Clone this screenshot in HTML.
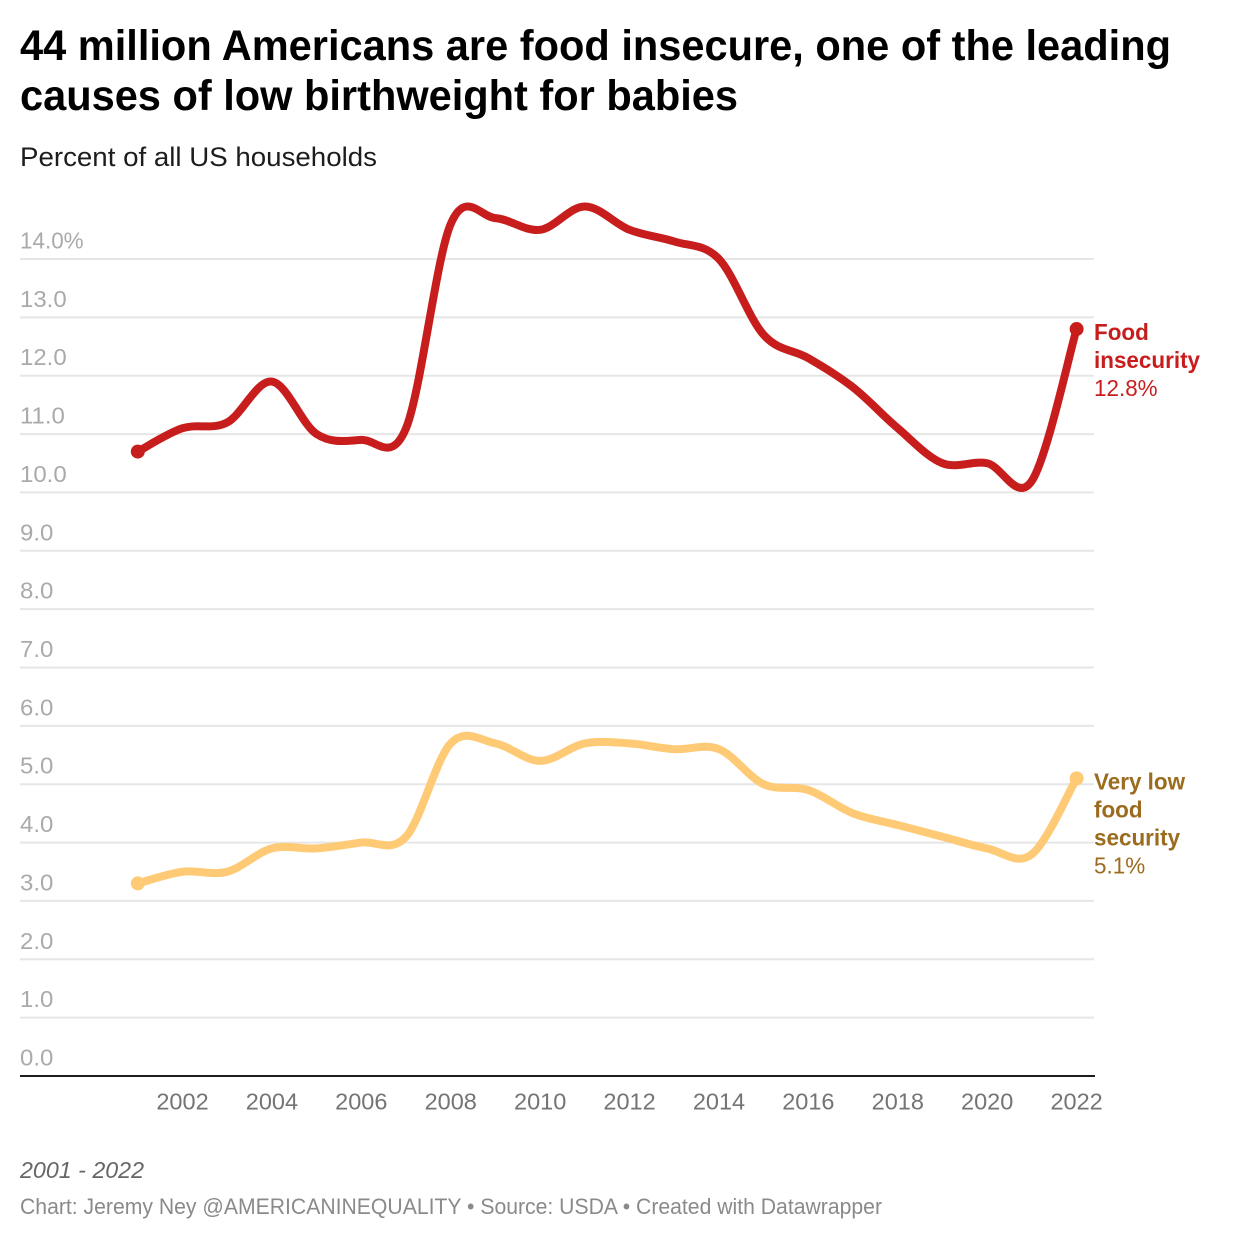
<!DOCTYPE html>
<html lang="en">
<head>
<meta charset="utf-8">
<title>Food insecurity chart</title>
<style>
html,body{margin:0;padding:0;background:#fff;width:1240px;height:1240px;overflow:hidden}
svg{display:block}
text{font-family:"Liberation Sans",Arial,sans-serif}
</style>
</head>
<body>
<svg id="chart" xmlns="http://www.w3.org/2000/svg" width="1240" height="1240" viewBox="0 0 1240 1240">
<rect width="1240" height="1240" fill="#fff"/>
<text x="20" y="60" font-size="43" font-weight="700" fill="#000" textLength="1151" lengthAdjust="spacingAndGlyphs">44 million Americans are food insecure, one of the leading</text>
<text x="20" y="110" font-size="43" font-weight="700" fill="#000" textLength="718" lengthAdjust="spacingAndGlyphs">causes of low birthweight for babies</text>
<text x="20" y="166" font-size="27" fill="#1d1d1d" textLength="357" lengthAdjust="spacingAndGlyphs">Percent of all US households</text>
<g id="grid"></g>
<g id="xaxis"></g>
<g id="series"></g>
<g id="labels"></g>
<text x="20" y="1178" font-size="23" font-style="italic" fill="#666" textLength="124" lengthAdjust="spacingAndGlyphs">2001 - 2022</text>
<text x="20" y="1214" font-size="22" fill="#8a8a8a" textLength="862" lengthAdjust="spacingAndGlyphs">Chart: Jeremy Ney @AMERICANINEQUALITY • Source: USDA • Created with Datawrapper</text>
</svg>
<script>
const years = [2001,2002,2003,2004,2005,2006,2007,2008,2009,2010,2011,2012,2013,2014,2015,2016,2017,2018,2019,2020,2021,2022];
const foodInsecurity = [10.7,11.1,11.2,11.9,11.0,10.9,11.1,14.6,14.7,14.5,14.9,14.5,14.3,14.0,12.7,12.3,11.8,11.1,10.5,10.5,10.2,12.8];
const veryLowFoodSecurity = [3.3,3.5,3.5,3.9,3.9,4.0,4.1,5.7,5.7,5.4,5.7,5.7,5.6,5.6,5.0,4.9,4.5,4.3,4.1,3.9,3.8,5.1];
const yTicks = [0,1,2,3,4,5,6,7,8,9,10,11,12,13,14];
const xTicks = [2002,2004,2006,2008,2010,2012,2014,2016,2018,2020,2022];
const foodLabelLines = ['Food','insecurity'];
const veryLowLabelLines = ['Very low','food','security'];

const NS = 'http://www.w3.org/2000/svg';
const xScale = v => 137.8 + (v - 2001) * (1076.6 - 137.8) / 21;
const yScale = v => 1076 - v * (1076 - 259) / 14;

function make(tag, parent, attrs, txt) {
  const el = document.createElementNS(NS, tag);
  for (const k in attrs) el.setAttribute(k, attrs[k]);
  if (txt !== undefined) el.textContent = txt;
  parent.appendChild(el);
  return el;
}

function fitWidth(el, factor) {
  el.setAttribute('textLength', el.getComputedTextLength() * factor);
  el.setAttribute('lengthAdjust', 'spacingAndGlyphs');
}

const grid = document.getElementById('grid');
yTicks.forEach(t => {
  if (t > 0) {
    const ln = make('line', grid, {x1:20, x2:1094, y1:yScale(t), y2:yScale(t), stroke:'#e6e6e6', 'stroke-width':2});
    
    
  }
  const lab = make('text', grid, {x:20, y:yScale(t)-10.5, 'font-size':23.5, fill:'#aaaaaa'}, t.toFixed(1) + (t === 14 ? '%' : ''));
  
  
  fitWidth(lab, t === 14 ? 0.955 : 1.02);
});

const xaxis = document.getElementById('xaxis');
const axisLine = make('line', xaxis, {x1:20, x2:1095, y1:1076, y2:1076, stroke:'#1d1d1d', 'stroke-width':2});


xTicks.forEach(t => {
  const lab = make('text', xaxis, {x:xScale(t), y:1109.5, 'font-size':23.5, fill:'#747474', 'text-anchor':'middle'}, String(t));
  
  
});

function curvePath(values) {
  const pts = values.map((v, i) => [xScale(years[i]), yScale(v)]);
  let d = 'M' + pts[0][0] + ',' + pts[0][1];
  for (let i = 0; i < pts.length - 1; i++) {
    const p0 = pts[Math.max(i - 1, 0)], p1 = pts[i], p2 = pts[i + 1], p3 = pts[Math.min(i + 2, pts.length - 1)];
    const c1x = p1[0] + (p2[0] - p0[0]) / 6, c1y = p1[1] + (p2[1] - p0[1]) / 6;
    const c2x = p2[0] - (p3[0] - p1[0]) / 6, c2y = p2[1] - (p3[1] - p1[1]) / 6;
    d += 'C' + c1x + ',' + c1y + ' ' + c2x + ',' + c2y + ' ' + p2[0] + ',' + p2[1];
  }
  return d;
}

const series = document.getElementById('series');
const labels = document.getElementById('labels');

function drawSeries(values, color, textColor, lines, key) {
  const path = make('path', series, {d:curvePath(values), fill:'none', stroke:color, 'stroke-width':8, 'stroke-linecap':'round', 'stroke-linejoin':'round'});
  
  
  const last = values.length - 1;
  [0, last].forEach(i => {
    const dot = make('circle', series, {cx:xScale(years[i]), cy:yScale(values[i]), r:7, fill:color});
    
    
  });
  let by = yScale(values[last]) + 11;
  lines.forEach(s => {
    const t = make('text', labels, {x:1094, y:by, 'font-size':23.5, 'font-weight':700, fill:textColor}, s);
    
    
    fitWidth(t, 0.955);
    by += 28;
  });
  const val = make('text', labels, {x:1094, y:by, 'font-size':23.5, fill:textColor}, values[last].toFixed(1) + '%');
  
  
  fitWidth(val, 0.955);
}

drawSeries(veryLowFoodSecurity, '#ffca76', '#9b6b1e', veryLowLabelLines, 'very-low-food-security');
drawSeries(foodInsecurity, '#c71e1d', '#c71e1d', foodLabelLines, 'food-insecurity');
</script>
</body>
</html>
